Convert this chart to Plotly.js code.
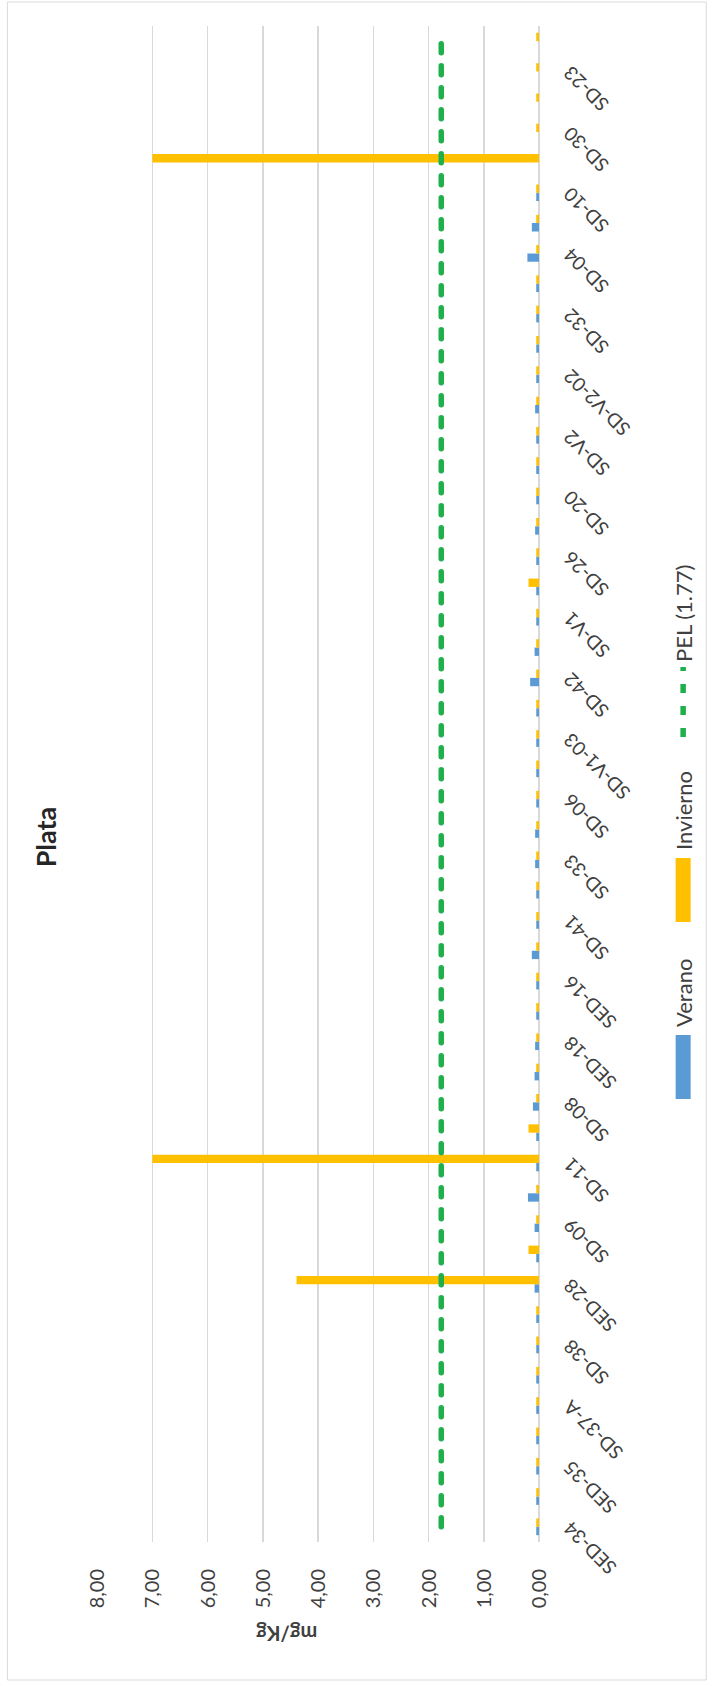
<!DOCTYPE html>
<html>
<head>
<meta charset="utf-8">
<script src="https://cdn.plot.ly/plotly-3.0.1.min.js"></script>
<style>
  html, body { margin: 0; padding: 0; background: #ffffff; overflow: hidden; width: 717px; height: 1686px; }
  /* The chart is laid out landscape and turned a quarter turn to stand on the page. */
  #frame { position: absolute; left: 0; top: 0; width: 1686px; height: 717px;
           transform-origin: 0 0; transform: translateY(1686px) rotate(-90deg); }
  #chart { width: 1686px; height: 717px; }
</style>
</head>
<body>
<div id="frame"><div id="chart"></div></div>
<script>
// Sampling sites from left to right; the axis labels every second site.
const siteLabels = ['SED-34', 'SED-35', 'SD-37-A', 'SD-38', 'SED-28', 'SD-09', 'SD-11', 'SD-08',
  'SED-18', 'SED-16', 'SD-41', 'SD-33', 'SD-06', 'SD-V1-03', 'SD-42', 'SD-V1', 'SD-26',
  'SD-20', 'SD-V2', 'SD-V2-02', 'SD-32', 'SD-04', 'SD-10', 'SD-30', 'SD-23'];

// Silver (mg/Kg) per site, summer campaign
const verano = [
  0.05, 0.05, 0.05, 0.05, 0.05, 0.05, 0.05, 0.05, 0.08, 0.05,
  0.08, 0.20, 0.05, 0.05, 0.11, 0.08, 0.07, 0.05, 0.05, 0.13,
  0.05, 0.05, 0.07, 0.07, 0.05, 0.05, 0.05, 0.05, 0.16, 0.08,
  0.05, 0.05, 0.05, 0.07, 0.05, 0.05, 0.05, 0.07, 0.05, 0.05,
  0.05, 0.05, 0.21, 0.13, 0.05, 0, 0, 0, 0, 0
];

// Silver (mg/Kg) per site, winter campaign
const invierno = [
  0.05, 0.05, 0.05, 0.05, 0.05, 0.05, 0.05, 0.05, 4.39, 0.19,
  0.05, 0.05, 7.00, 0.19, 0.05, 0.05, 0.05, 0.05, 0.05, 0.05,
  0.05, 0.05, 0.05, 0.05, 0.05, 0.05, 0.05, 0.05, 0.05, 0.05,
  0.05, 0.19, 0.05, 0.05, 0.05, 0.05, 0.05, 0.05, 0.05, 0.05,
  0.05, 0.05, 0.05, 0.05, 0.05, 7.00, 0.05, 0.05, 0.05, 0.05
];

// Probable effect level for silver
const pelValue = 1.77;

const sitePositions = verano.map((_, i) => i);
const labelPositions = siteLabels.map((_, i) => 2 * i);
const firstSite = sitePositions[0];
const lastSite = sitePositions[sitePositions.length - 1];

const W = 1686, H = 717;
const M = { l: 144, r: 26, t: 97, b: 176 };
const plotW = W - M.l - M.r, plotH = H - M.t - M.b;
const px2x = px => (px - M.l) / plotW;
const px2y = py => (H - M.b - py) / plotH;

const font = 'Lato, "Noto Sans", "Liberation Sans", sans-serif';
const txt = '#404040';
const grid = '#d9d9d9';
const pelDash = '9px,13px';

const data = [
  { type: 'bar', name: 'Verano', x: sitePositions, y: verano, legend: 'legend',
    marker: { color: '#5b9bd5' }, hoverinfo: 'skip' },
  { type: 'bar', name: 'Invierno', x: sitePositions, y: invierno, legend: 'legend2',
    marker: { color: '#ffc000' }, hoverinfo: 'skip' },
  { type: 'scatter', mode: 'lines', name: 'PEL (' + pelValue + ')', legend: 'legend3',
    x: [firstSite, lastSite], y: [pelValue, pelValue],
    line: { color: '#1fb04c', width: 5.5, dash: pelDash }, hoverinfo: 'skip' }
];

// One legend box per entry, laid side by side below the chart
const legendBox = left => ({
  orientation: 'h', xref: 'paper', yref: 'paper',
  x: px2x(left), xanchor: 'left', y: px2y(686), yanchor: 'middle',
  itemwidth: 70, font: { family: font, size: 22, color: txt },
  bgcolor: 'rgba(0,0,0,0)', borderwidth: 0
});

const layout = {
  width: W, height: H,
  margin: M,
  paper_bgcolor: '#ffffff', plot_bgcolor: '#ffffff',
  separators: ',.',
  font: { family: font, size: 19, color: txt },
  barmode: 'group', bargap: 0.45, bargroupgap: 0,
  title: { text: '<b>Plata</b>', font: { family: font, size: 27, color: '#262626' },
           x: 849 / W, xref: 'container', xanchor: 'center',
           y: 1 - 47 / H, yref: 'container', yanchor: 'middle' },
  xaxis: {
    range: [firstSite - 0.5, lastSite + 0.5],
    tickmode: 'array', tickvals: labelPositions, ticktext: siteLabels,
    tickangle: -45, ticks: 'outside', ticklen: 12, tickcolor: 'rgba(0,0,0,0)',
    showgrid: false, zeroline: false, showline: false,
    tickfont: { family: font, size: 19, color: txt }
  },
  yaxis: {
    range: [0, 8.003], tickvals: [0, 1, 2, 3, 4, 5, 6, 7, 8], tickformat: '.2f',
    ticks: 'outside', ticklen: 22, tickcolor: 'rgba(0,0,0,0)',
    showgrid: true, gridcolor: grid, gridwidth: 1.5,
    zeroline: true, zerolinecolor: grid, zerolinewidth: 1.5,
    showline: false,
    tickfont: { family: font, size: 20, color: txt }
  },
  annotations: [
    { text: '<b>mg/Kg</b>', textangle: -90, showarrow: false,
      xref: 'paper', yref: 'paper', x: px2x(52), y: px2y(288),
      xanchor: 'center', yanchor: 'middle',
      font: { family: font, size: 20, color: txt } }
  ],
  shapes: [
    { type: 'rect', xref: 'paper', yref: 'paper', layer: 'below',
      x0: px2x(6), x1: px2x(1684), y0: px2y(709), y1: px2y(7),
      line: { color: grid, width: 1 }, fillcolor: 'rgba(0,0,0,0)' }
  ],
  showlegend: true,
  legend: legendBox(579),
  legend2: legendBox(756),
  legend3: legendBox(944)
};

Plotly.newPlot('chart', data, layout, { displayModeBar: false, staticPlot: true }).then(gd => {
  gd.querySelectorAll('.infolayer .traces').forEach(g => {
    const d = g.__data__;
    const trace = d && d[0] && d[0].trace;
    if (!trace) return;
    if (trace.type === 'bar') {
      // wide rectangular key for the bar series
      g.querySelectorAll('.legendpoints path').forEach(p => p.setAttribute('d', 'M32,7.5H-32V-7.5H32Z'));
    } else {
      // three-dash key for the PEL line, ending a little before its label
      const text = g.querySelector('.legendtext');
      g.querySelectorAll('.legendlines path').forEach(p => {
        if (!text) return;
        const m = p.getCTM().inverse().multiply(text.getCTM());
        const tb = text.getBBox();
        const start = new DOMPoint(tb.x, 0).matrixTransform(m);
        const end = start.x - 14;
        p.setAttribute('d', 'M' + (end - 53) + ',0h53');
        p.style.strokeDasharray = pelDash;
        p.style.strokeWidth = '5.5px';
        p.style.strokeLinecap = 'round';
      });
    }
  });
  gd.querySelectorAll('.scatterlayer .js-line').forEach(p => p.style.strokeLinecap = 'round');
});
</script>
</body>
</html>
